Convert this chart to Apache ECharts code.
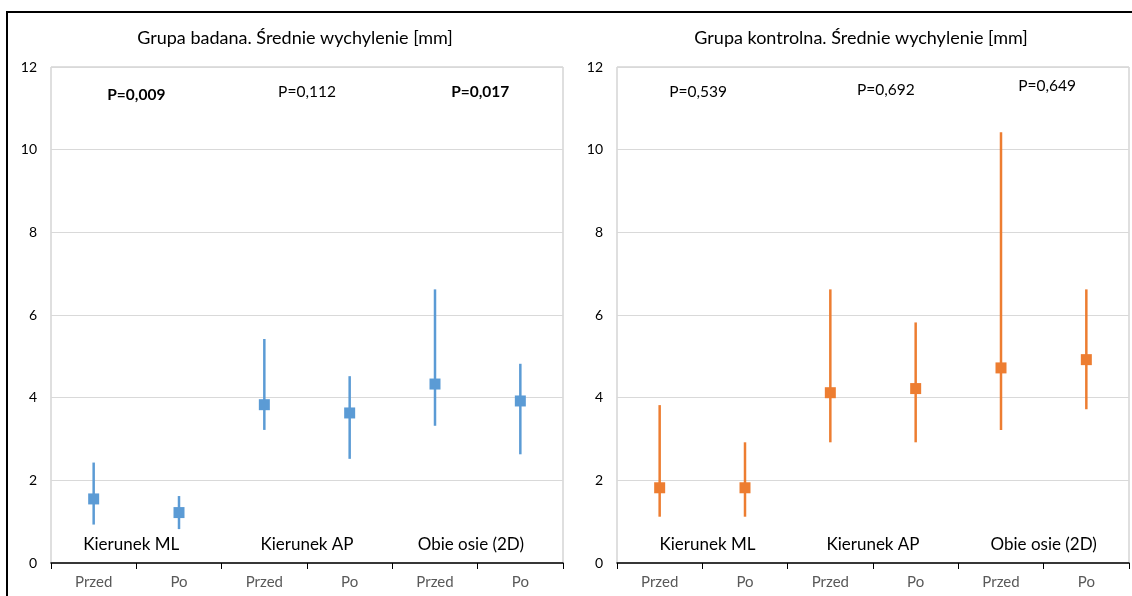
<!DOCTYPE html>
<html><head><meta charset="utf-8">
<script src="https://cdn.jsdelivr.net/npm/echarts@6/dist/echarts.min.js"></script>
<style>html,body{margin:0;padding:0;background:#fff}#c{width:1132px;height:596px}</style>
</head><body><div id="c"></div>
<script>
const categories = ['Przed','Po','Przed','Po','Przed','Po'];
const groupLabels = ['Kierunek ML','Kierunek AP','Obie osie (2D)'];
const yTicks = [0,2,4,6,8,10,12];

const titleA = 'Grupa badana. Średnie wychylenie [mm]';
const meanA = [1.55, 1.22, 3.83, 3.63, 4.33, 3.92];
const lowA  = [0.93, 0.82, 3.22, 2.52, 3.32, 2.63];
const highA = [2.43, 1.62, 5.42, 4.52, 6.62, 4.82];
const pTextA = ['P=0,009','P=0,112','P=0,017'];
const pBoldA = [true, false, true];
const pYA = [11.32, 11.4, 11.4];

const titleB = 'Grupa kontrolna. Średnie wychylenie [mm]';
const meanB = [1.82, 1.82, 4.12, 4.22, 4.72, 4.92];
const lowB  = [1.12, 1.12, 2.92, 2.92, 3.22, 3.72];
const highB = [3.82, 2.92, 6.62, 5.82, 10.42, 6.62];
const pTextB = ['P=0,539','P=0,692','P=0,649'];
const pBoldB = [false, false, false];
const pYB = [11.4, 11.44, 11.54];

const groupLabelY = 0.44;
const FONT = 'Lato, "Open Sans", sans-serif';
const colA = '#5B9BD5', colB = '#ED7D31';
// small horizontal label shifts (in category widths)
const pShiftA = [0, 0, 0.03];
const pShiftB = [-0.05, 0.15, 0.04];
const gShiftA = [-0.06, 0, -0.08];
const gShiftB = [0.06, 0, 0];

const chart = echarts.init(document.getElementById('c'));

function panel(i, mean, low, high, pText, pBold, pY, pShift, gShift, color) {
  const errData = categories.map((c, k) => [k, low[k], high[k]]);
  const annData = groupLabels.map((g, k) => [k, groupLabelY, g, 0, 17, gShift[k]]);
  const pData = pText.map((t, k) => [k, pY[k], t, pBold[k] ? 1 : 0, 15.5, pShift[k]]);
  const textSeries = (data) => ({
    type: 'custom', xAxisIndex: i, yAxisIndex: i, silent: true, z: 5,
    data: data,
    renderItem: function (params, api) {
      const d = data[params.dataIndex];
      const g = d[0];
      const p1 = api.coord([2 * g, d[1]]);
      const p2 = api.coord([2 * g + 1, d[1]]);
      const w = p2[0] - p1[0];
      return {
        type: 'text',
        style: {
          x: (p1[0] + p2[0]) / 2 + d[5] * w, y: p1[1],
          text: d[2],
          fill: '#000', align: 'center', verticalAlign: 'middle',
          font: (d[3] ? 'bold ' : '') + d[4] + 'px ' + FONT
        }
      };
    }
  });
  return [
    {
      type: 'custom', xAxisIndex: i, yAxisIndex: i, z: 3,
      data: errData,
      renderItem: function (params, api) {
        const lo = api.coord([api.value(0), api.value(1)]);
        const hi = api.coord([api.value(0), api.value(2)]);
        return {
          type: 'line',
          shape: { x1: lo[0], y1: lo[1], x2: hi[0], y2: hi[1] },
          style: { stroke: color, lineWidth: 2.5 }
        };
      }
    },
    {
      type: 'scatter', xAxisIndex: i, yAxisIndex: i, z: 4,
      symbol: 'rect', symbolSize: 11,
      itemStyle: { color: color, opacity: 1 },
      data: mean
    },
    textSeries(annData),
    textSeries(pData)
  ];
}

function xAxis(i) {
  return {
    type: 'category', gridIndex: i, data: categories, boundaryGap: true,
    axisLine: { lineStyle: { color: '#000', width: 1.5 } },
    axisTick: { show: true, length: 6, lineStyle: { color: '#000' } },
    axisLabel: { color: '#595959', fontSize: 15, fontFamily: FONT, margin: 12 },
    splitLine: { show: false }
  };
}
function yAxis(i) {
  return {
    type: 'value', gridIndex: i, min: yTicks[0], max: yTicks[yTicks.length - 1],
    interval: yTicks[1] - yTicks[0],
    axisLine: { show: false }, axisTick: { show: false },
    axisLabel: { color: '#000', fontSize: 14, fontFamily: FONT, margin: 14 },
    splitLine: { lineStyle: { color: '#d9d9d9', width: 1 } }
  };
}

chart.setOption({
  animation: false,
  backgroundColor: '#fff',
  title: [
    { text: titleA, left: 290, top: 24, textAlign: 'center',
      textStyle: { fontSize: 18, fontWeight: 'normal', color: '#000', fontFamily: FONT } },
    { text: titleB, left: 856, top: 24, textAlign: 'center',
      textStyle: { fontSize: 18, fontWeight: 'normal', color: '#000', fontFamily: FONT } }
  ],
  grid: [
    { left: 51, top: 67, width: 512, height: 496, show: true, borderColor: '#bfbfbf', borderWidth: 1 },
    { left: 617, top: 67, width: 512, height: 496, show: true, borderColor: '#bfbfbf', borderWidth: 1 }
  ],
  xAxis: [xAxis(0), xAxis(1)],
  yAxis: [yAxis(0), yAxis(1)],
  graphic: [
    { type: 'rect', shape: { x: 7, y: 12, width: 1140, height: 600 },
      style: { fill: null, stroke: '#000', lineWidth: 2 }, silent: true, z: 100 }
  ],
  series: [].concat(
    panel(0, meanA, lowA, highA, pTextA, pBoldA, pYA, pShiftA, gShiftA, colA),
    panel(1, meanB, lowB, highB, pTextB, pBoldB, pYB, pShiftB, gShiftB, colB)
  )
});
</script></body></html>
